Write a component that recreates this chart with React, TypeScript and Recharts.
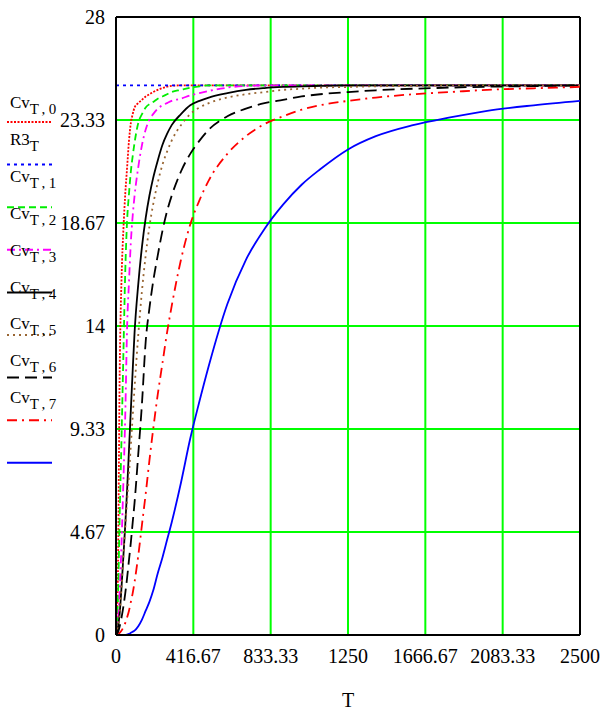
import React from "react";
import {
  LineChart,
  Line,
  XAxis,
  YAxis,
  CartesianGrid,
  ReferenceLine,
  Legend,
} from "recharts";

// sample times (T)
const T = [
  0, 10, 20, 30, 40, 50, 60, 70, 80, 90, 100, 120, 140, 160, 180, 200, 225, 250,
  275, 300, 350, 400, 450, 500, 600, 700, 800, 900, 1000, 1100, 1250, 1400,
  1600, 1800, 2000, 2250, 2500,
];

const cv0 = [
  0, 2.5, 12.0, 16.2, 18.4, 20.0, 21.2, 22.4, 23.2, 23.6, 23.9, 24.1, 24.25,
  24.4, 24.5, 24.6, 24.7, 24.78, 24.84, 24.88, 24.9, 24.9, 24.9, 24.9, 24.9,
  24.9, 24.9, 24.9, 24.9, 24.9, 24.9, 24.9, 24.9, 24.9, 24.9, 24.9, 24.9,
];
const r3 = [
  24.9, 24.9, 24.9, 24.9, 24.9, 24.9, 24.9, 24.9, 24.9, 24.9, 24.9, 24.9, 24.9,
  24.9, 24.9, 24.9, 24.9, 24.9, 24.9, 24.9, 24.9, 24.9, 24.9, 24.9, 24.9, 24.9,
  24.9, 24.9, 24.9, 24.9, 24.9, 24.9, 24.9, 24.9, 24.9, 24.9, 24.9,
];
const cv1 = [
  0, 1.5, 5.5, 9.0, 12.8, 16.5, 18.8, 20.0, 21.0, 21.7, 22.3, 23.2, 23.6, 23.9,
  24.05, 24.15, 24.3, 24.4, 24.5, 24.6, 24.7, 24.8, 24.86, 24.9, 24.9, 24.9,
  24.9, 24.9, 24.9, 24.9, 24.9, 24.9, 24.9, 24.9, 24.9, 24.9, 24.9,
];
const cv2 = [
  0, 0.5, 2.0, 4.2, 7.0, 10.0, 14.0, 16.0, 17.8, 19.0, 19.9, 21.2, 22.2, 22.9,
  23.35, 23.6, 23.85, 24.0, 24.1, 24.2, 24.3, 24.45, 24.55, 24.65, 24.8, 24.88,
  24.9, 24.9, 24.9, 24.9, 24.9, 24.9, 24.9, 24.9, 24.9, 24.9, 24.9,
];
const cv3 = [
  0, 0.3, 1.0, 2.2, 3.6, 5.0, 6.6, 8.4, 10.2, 12.0, 13.7, 15.9, 17.6, 18.9,
  19.9, 20.7, 21.5, 22.2, 22.7, 23.1, 23.6, 24.0, 24.2, 24.35, 24.55, 24.7,
  24.78, 24.83, 24.86, 24.88, 24.9, 24.9, 24.9, 24.9, 24.9, 24.9, 24.9,
];
const cv4 = [
  0, 0.3, 1.0, 2.2, 3.6, 4.9, 6.1, 7.3, 8.6, 9.9, 11.2, 13.6, 15.6, 17.2, 18.5,
  19.5, 20.5, 21.3, 21.9, 22.4, 23.1, 23.6, 23.9, 24.1, 24.35, 24.5, 24.6, 24.7,
  24.75, 24.8, 24.83, 24.86, 24.88, 24.9, 24.9, 24.9, 24.9,
];
const cv5 = [
  0, 0.1, 0.4, 0.8, 1.3, 1.9, 2.6, 3.4, 4.2, 5.1, 6.0, 8.2, 10.5, 13.3, 14.8,
  16.0, 17.2, 18.3, 19.2, 19.9, 21.0, 21.8, 22.4, 22.9, 23.5, 23.85, 24.1,
  24.25, 24.4, 24.5, 24.6, 24.68, 24.75, 24.8, 24.84, 24.87, 24.9,
];
const cv6 = [
  0, 0, 0.1, 0.2, 0.35, 0.55, 0.8, 1.1, 1.5, 1.9, 2.4, 3.6, 5.0, 6.4, 7.9, 9.3,
  10.9, 12.3, 13.7, 14.9, 17.0, 18.6, 19.7, 20.6, 21.8, 22.6, 23.15, 23.5, 23.8,
  24.0, 24.2, 24.35, 24.5, 24.6, 24.7, 24.77, 24.83,
];
const cv7 = [
  0, 0, 0, 0, 0, 0, 0.02, 0.05, 0.1, 0.15, 0.2, 0.4, 0.7, 1.1, 1.5, 2.0, 2.8,
  3.5, 4.3, 5.1, 6.9, 8.9, 10.6, 12.2, 15.0, 17.0, 18.4, 19.5, 20.4, 21.1, 22.0,
  22.6, 23.1, 23.45, 23.75, 24.0, 24.2,
];

const xTicks = [0, 416.67, 833.33, 1250, 1666.67, 2083.33, 2500];
const yTicks = [0, 4.67, 9.33, 14, 18.67, 23.33, 28];

// trace styles, in legend order
const traces = [
  { key: "cv0", base: "Cv", sub: "T,0", values: cv0, color: "#ff0000", dash: "2 1.5" },
  { key: "r3", base: "R3", sub: "T", values: r3, color: "#0000ff", dash: "3 4" },
  { key: "cv1", base: "Cv", sub: "T,1", values: cv1, color: "#00ee00", dash: "7 4" },
  { key: "cv2", base: "Cv", sub: "T,2", values: cv2, color: "#ff00ff", dash: "8 4 2 4" },
  { key: "cv3", base: "Cv", sub: "T,3", values: cv3, color: "#000000", dash: undefined },
  { key: "cv4", base: "Cv", sub: "T,4", values: cv4, color: "#996633", dash: "2 4" },
  { key: "cv5", base: "Cv", sub: "T,5", values: cv5, color: "#000000", dash: "12 6" },
  { key: "cv6", base: "Cv", sub: "T,6", values: cv6, color: "#ff0000", dash: "10 5 2 5" },
  { key: "cv7", base: "Cv", sub: "T,7", values: cv7, color: "#0000ff", dash: undefined },
];

const data = T.map((t, i) => {
  const row: Record<string, number> = { T: t };
  for (const tr of traces) row[tr.key] = tr.values[i];
  return row;
});

const font = "'Liberation Serif', 'Times New Roman', serif";

function MathcadLegend() {
  return (
    <svg width={112} height={480} style={{ overflow: "visible" }}>
      {traces.map((tr, i) => {
        const ty = 108 + i * 36.9;
        const ly = 122 + i * 42.6;
        return (
          <g key={tr.key}>
            <text x={10} y={ty} fontFamily={font} fontSize={17} fill="#000">
              {tr.base}
              <tspan fontSize={15} dy={6} letterSpacing={3.5}>
                {tr.sub}
              </tspan>
            </text>
            <line
              x1={7}
              x2={52}
              y1={ly}
              y2={ly}
              stroke={tr.color}
              strokeWidth={2}
              strokeDasharray={tr.dash}
            />
          </g>
        );
      })}
    </svg>
  );
}

export default function App() {
  const tickStyle = { fill: "#000", fontFamily: font, fontSize: 20 };
  return (
    <div style={{ position: "absolute", left: 0, top: 0 }}>
      <LineChart
        width={603}
        height={717}
        data={data}
        margin={{ top: 17, right: 23, bottom: 0, left: 0 }}
      >
        <CartesianGrid stroke="#00ff00" strokeWidth={2} />
        <XAxis
          dataKey="T"
          type="number"
          domain={[0, 2500]}
          ticks={xTicks}
          tickFormatter={(v) => String(v)}
          interval={0}
          height={82}
          tickSize={0}
          tickMargin={14}
          tickLine={false}
          axisLine={{ stroke: "#000", strokeWidth: 2 }}
          tick={tickStyle}
          label={{
            value: "T",
            position: "insideBottom",
            offset: 10,
            style: { fill: "#000", fontFamily: font, fontSize: 20 },
          }}
        />
        <YAxis
          type="number"
          domain={[0, 28]}
          ticks={yTicks}
          interval={0}
          width={116}
          tickSize={0}
          tickMargin={11}
          tickLine={false}
          axisLine={{ stroke: "#000", strokeWidth: 2 }}
          tick={tickStyle}
        />
        <ReferenceLine y={28} stroke="#000" strokeWidth={2} />
        <ReferenceLine x={2500} stroke="#000" strokeWidth={2} />
        <Legend
          layout="vertical"
          align="center"
          verticalAlign="middle"
          content={() => <MathcadLegend />}
          wrapperStyle={{ left: 0, top: 0, width: 112 }}
        />
        {traces.map((tr) => (
          <Line
            key={tr.key}
            dataKey={tr.key}
            type="monotone"
            stroke={tr.color}
            strokeWidth={1.8}
            strokeDasharray={tr.dash}
            dot={false}
            activeDot={false}
            isAnimationActive={false}
          />
        ))}
      </LineChart>
    </div>
  );
}
